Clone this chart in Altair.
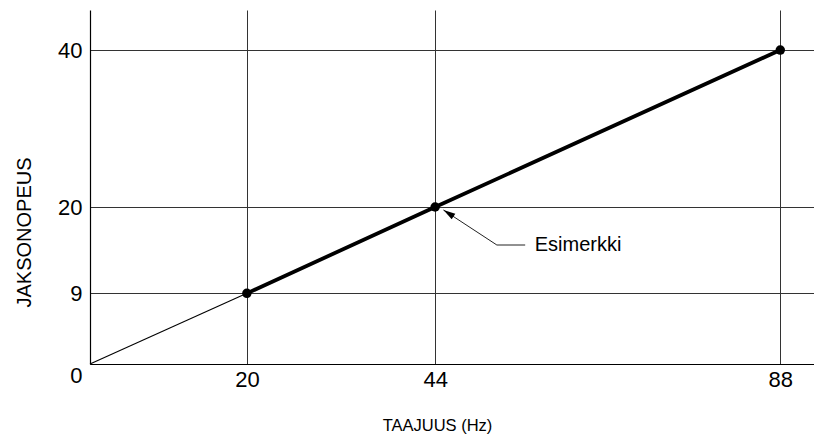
import altair as alt
import pandas as pd

# data
freq = [0, 20, 44, 88]
speed = [0, 9, 20, 40]
x_ticks = [20, 44, 88]
y_ticks = [0, 9, 20, 40]

# annotation (data coords)
leader_f = [45.06, 51.87, 55.48]
leader_s = [19.62, 15.16, 15.16]
label_f = [56.7]
label_s = [15.16]
label_txt = ["Esimerkki"]

FONT = "Liberation Sans"

thin = pd.DataFrame({"f": freq[:2], "s": speed[:2]})
thick = pd.DataFrame({"f": freq[1:], "s": speed[1:]})
leader = pd.DataFrame({"f": leader_f, "s": leader_s, "o": [0, 1, 2]})
head = pd.DataFrame({"f": leader_f[:1], "s": leader_s[:1]})
lab = pd.DataFrame({"f": label_f, "s": label_s, "t": label_txt})

xenc = alt.X(
    "f:Q",
    scale=alt.Scale(domain=[0, 92.3], nice=False, zero=True),
    axis=alt.Axis(
        values=x_ticks, ticks=False, grid=True, labelFlush=False,
        labelFontSize=22, labelColor="black", labelPadding=5,
        title="TAAJUUS (Hz)", titleFontSize=16.5, titleFontWeight="normal",
        titleColor="black", titleX=347, titleY=66, titleBaseline="alphabetic",
        titleAlign="center",
    ),
)
yenc = alt.Y(
    "s:Q",
    scale=alt.Scale(domain=[0, 45.1], nice=False, zero=True),
    axis=alt.Axis(
        values=y_ticks, ticks=False, grid=True, labelFlush=False,
        labelOverlap=False,
        labelFontSize=22, labelColor="black", labelPadding=8,
        labelBaseline="middle",
        labelOffset={"condition": {"test": "datum.value === 0", "value": 11}, "value": 0},
        title="JAKSONOPEUS", titleFontSize=20, titleFontWeight="normal",
        titleColor="black", titleX=-60, titleY=222, titleBaseline="alphabetic",
        titleAlign="center", titleAngle=270,
    ),
)

l_thin = alt.Chart(thin).mark_line(color="black", strokeWidth=1.1).encode(x=xenc, y=yenc)
l_thick = alt.Chart(thick).mark_line(color="black", strokeWidth=3.8).encode(x=xenc, y=yenc)
dots = alt.Chart(thick).mark_point(filled=True, color="black", size=90, opacity=1).encode(x=xenc, y=yenc)
l_lead = alt.Chart(leader).mark_line(color="#222", strokeWidth=1).encode(x=xenc, y=yenc, order="o:O")
arrow = alt.Chart(head).mark_point(
    shape="M0,0L-0.55,2L0.55,2Z", filled=True, color="black", size=144, angle=303.2, opacity=1
).encode(x=xenc, y=yenc)
txt = alt.Chart(lab).mark_text(
    align="left", baseline="middle", fontSize=20, font=FONT, color="black"
).encode(x=xenc, y=yenc, text="t:N")

chart = alt.layer(l_thin, l_thick, l_lead, arrow, dots, txt).properties(
    width=724, height=354,
    autosize=alt.AutoSizeParams(type="none"),
    padding={"left": 82, "top": 2, "right": 0, "bottom": 90},
    background="white",
).configure(font=FONT).configure_view(stroke=None).configure_axis(
    domainColor="black", domainWidth=1.2, gridColor="#333", gridWidth=1, gridOpacity=1,
    labelFont=FONT, titleFont=FONT,
)

chart.save("out.html", embed_options={"renderer": "svg", "actions": False})
